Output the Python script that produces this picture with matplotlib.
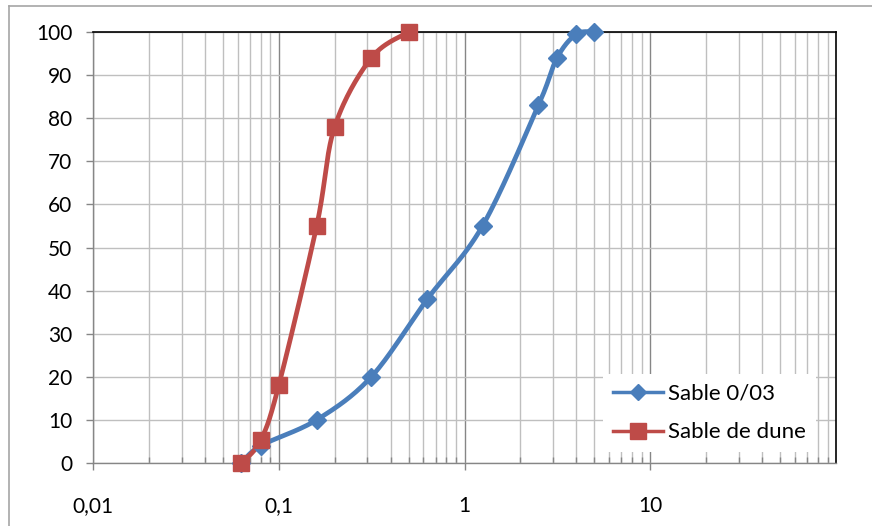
import numpy as np
import matplotlib
matplotlib.use("Agg")
import matplotlib.pyplot as plt
from matplotlib.ticker import FixedLocator, NullFormatter, FixedFormatter
from matplotlib.lines import Line2D

plt.rcParams['font.family'] = ['Lato', 'DejaVu Sans']

# Data
sizes_blue = [0.063, 0.08, 0.16, 0.315, 0.63, 1.25, 2.5, 3.15, 4, 5]
pass_blue = [0, 4, 10, 20, 38, 55, 83, 94, 99.5, 100]
sizes_red = [0.063, 0.08, 0.1, 0.16, 0.2, 0.315, 0.5]
pass_red = [0, 5.3, 18, 55, 78, 94, 100]
labels = ["Sable 0/03", "Sable de dune"]
colors = ["#4A7EBB", "#BE4B48"]
xtick_vals = [0.01, 0.1, 1, 10]
xtick_labels = ["0,01", "0,1", "1", "10"]
ytick_vals = list(range(0, 101, 10))

W, H = 743.0, 431.0

def smooth(xs, ys, n=30):
    # Excel-like bezier smoothing in pixel-ish space (log x)
    px = (np.log10(xs) + 2) / 4 * W
    py = np.asarray(ys, float) / 100 * H
    P = np.column_stack([px, py])
    m = len(P)
    out = [P[0]]
    for i in range(m - 1):
        p0 = P[i - 1] if i > 0 else P[i]
        p1 = P[i]
        p2 = P[i + 1]
        p3 = P[i + 2] if i + 2 < m else P[i + 1]
        c1 = p1 + (p2 - p0) / 6
        c2 = p2 - (p3 - p1) / 6
        t = np.linspace(0, 1, n)[1:, None]
        b = ((1 - t) ** 3) * p1 + 3 * ((1 - t) ** 2) * t * c1 + 3 * (1 - t) * t ** 2 * c2 + t ** 3 * p2
        out.extend(b)
    out = np.array(out)
    xs_o = 10 ** (out[:, 0] / W * 4 - 2)
    ys_o = out[:, 1] / H * 100
    return xs_o, ys_o

fig = plt.figure(figsize=(8.72, 5.26), dpi=100)
ax = fig.add_axes([93 / 872, 1 - 463 / 526, 743 / 872, 431 / 526])

# outer chart border (partially visible)
fig.add_artist(Line2D([9 / 872, 1.0], [1 - 6 / 526, 1 - 6 / 526], color="#A6A6A6", lw=1.2, transform=fig.transFigure))
fig.add_artist(Line2D([9 / 872, 9 / 872], [0, 1 - 6 / 526], color="#A6A6A6", lw=1.2, transform=fig.transFigure))

ax.set_xscale('log')
ax.set_xlim(0.01, 100)
ax.set_ylim(0, 100)

# gridlines
minor_locs = [m * 10.0 ** e for e in range(-2, 2) for m in range(2, 10)]
ax.xaxis.set_major_locator(FixedLocator(xtick_vals))
ax.xaxis.set_major_formatter(FixedFormatter(xtick_labels))
ax.xaxis.set_minor_locator(FixedLocator(minor_locs))
ax.xaxis.set_minor_formatter(NullFormatter())
ax.yaxis.set_major_locator(FixedLocator(ytick_vals))

ax.grid(which='major', axis='x', color='#868686', lw=1.0)
ax.grid(which='minor', axis='x', color='#BFBFBF', lw=1.0)
ax.grid(which='major', axis='y', color='#BFBFBF', lw=1.0)
ax.set_axisbelow(True)

for s in ['top', 'right']:
    ax.spines[s].set_color('black')
    ax.spines[s].set_linewidth(1.2)
for s in ['left', 'bottom']:
    ax.spines[s].set_color('#868686')
    ax.spines[s].set_linewidth(1.0)

ax.tick_params(axis='x', which='major', direction='out', length=5, width=1, color='#868686', pad=19, labelsize=15)
ax.tick_params(axis='x', which='minor', direction='in', length=4, width=1, color='#868686')
ax.tick_params(axis='y', which='major', direction='out', length=5, width=1, color='#868686', pad=10, labelsize=15)

for xs, ys, c, mk, ms, lab in [(sizes_blue, pass_blue, colors[0], 'D', 9, labels[0]),
                               (sizes_red, pass_red, colors[1], 's', 12, labels[1])]:
    sx, sy = smooth(xs, ys)
    ax.plot(sx, sy, color=c, lw=3.4, solid_capstyle='round', clip_on=False, zorder=3)
    ax.plot(xs, ys, ls='none', marker=mk, ms=ms, color=c, mec=c, clip_on=False, zorder=4)

handles = [Line2D([], [], color=colors[0], lw=2.5, marker='D', ms=8.5, mec=colors[0]),
           Line2D([], [], color=colors[1], lw=2.5, marker='s', ms=11.5, mec=colors[1])]
leg = ax.legend(handles, labels, loc='center left', bbox_to_anchor=((603 - 93) / 743, (463 - 413) / 431),
                frameon=True, fancybox=False, framealpha=1, edgecolor='none', facecolor='white',
                fontsize=16, handlelength=2.25, labelspacing=0.85, borderpad=0.45, handletextpad=0.22,
                borderaxespad=0)
leg.set_zorder(5)

fig.savefig("out.png", dpi=100)
